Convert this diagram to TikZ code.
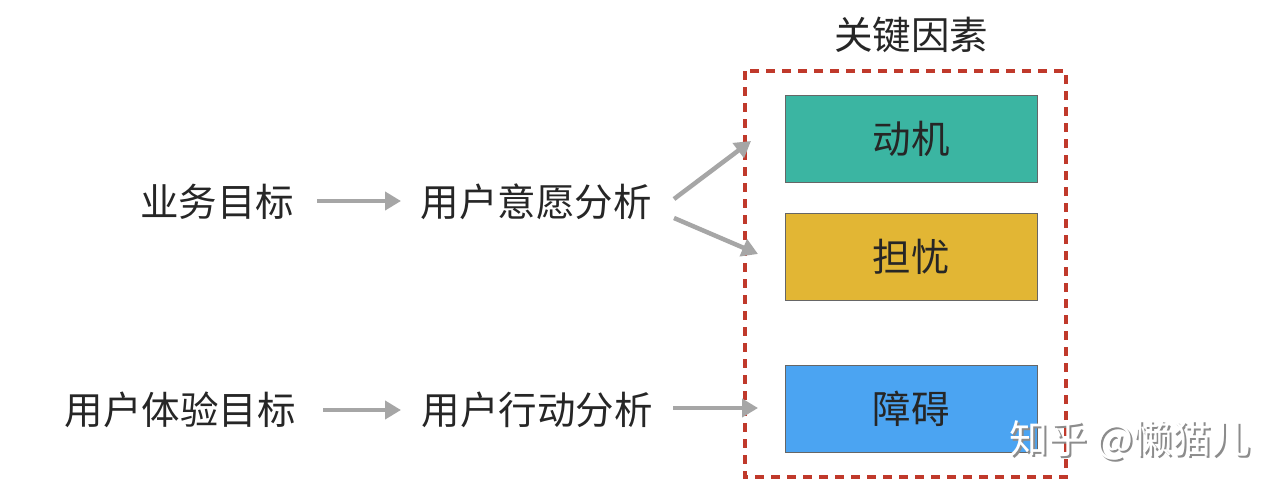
\documentclass[tikz,border=0pt]{standalone}
\usepackage{fontspec}
\setmainfont{Noto Sans CJK SC}
\usetikzlibrary{arrows.meta}
\definecolor{arrgray}{HTML}{A6A6A6}
\definecolor{dashred}{HTML}{C0392B}
\definecolor{cteal}{HTML}{3BB5A2}
\definecolor{cyellow}{HTML}{E2B634}
\definecolor{cblue}{HTML}{4BA4F2}
\tikzset{
  lbl/.style={font=\fontsize{38.5}{40}\selectfont, text=black!85, inner sep=0pt},
  fbox/.style={draw=black!60, line width=0.8pt, minimum width=252pt, minimum height=87pt, inner sep=0pt, font=\fontsize{38.5}{40}\selectfont, text=black!85},
  garrow/.style={draw=arrgray, line width=4.5pt, -{Triangle[length=16pt,width=18pt]}},
}
\begin{document}
\begin{tikzpicture}[x=1pt,y=-1pt]
\useasboundingbox (0,0) rectangle (1283,496);
\fill[white] (0,0) rectangle (1283,496);
% title
\node[lbl] (title) at (911,35) {关键因素};
% dashed frame
\draw[dashred, line width=4pt, dash pattern=on 9pt off 7pt] (745,71) rectangle (1066,477);
% boxes
\node[fbox, fill=cteal] (m) at (911,138.5) {动机};
\node[fbox, fill=cyellow] (w) at (911,257) {担忧};
\node[fbox, fill=cblue] (z) at (911,408.5) {障碍};
% left labels
\node[lbl] (biz) at (217,202) {业务目标};
\node[lbl] (will) at (536,202) {用户意愿分析};
\node[lbl] (ux) at (180,410) {用户体验目标};
\node[lbl] (act) at (537,410) {用户行动分析};
% arrow coordinates
\coordinate (a1s) at (317,201);
\coordinate (a1e) at (401,201);
\coordinate (a2s) at (323,410);
\coordinate (a2e) at (401,410);
\coordinate (d1s) at (674,199);
\coordinate (d1e) at (751,141);
\coordinate (d2s) at (674,218);
\coordinate (d2e) at (758,254);
\coordinate (d3s) at (673,408);
\coordinate (d3e) at (758,408);
\draw[garrow] (a1s) -- (a1e);
\draw[garrow] (a2s) -- (a2e);
\draw[garrow] (d1s) -- (d1e);
\draw[garrow] (d2s) -- (d2e);
\draw[garrow] (d3s) -- (d3e);
% watermark
\node[font=\fontsize{39}{40}\selectfont, text=black!45, inner sep=0pt] (wms) at (1132,442) {知乎 @懒猫儿};
\node[font=\fontsize{39}{40}\selectfont, text=white, inner sep=0pt] (wm) at (1130,440) {知乎 @懒猫儿};
\end{tikzpicture}
\end{document}
